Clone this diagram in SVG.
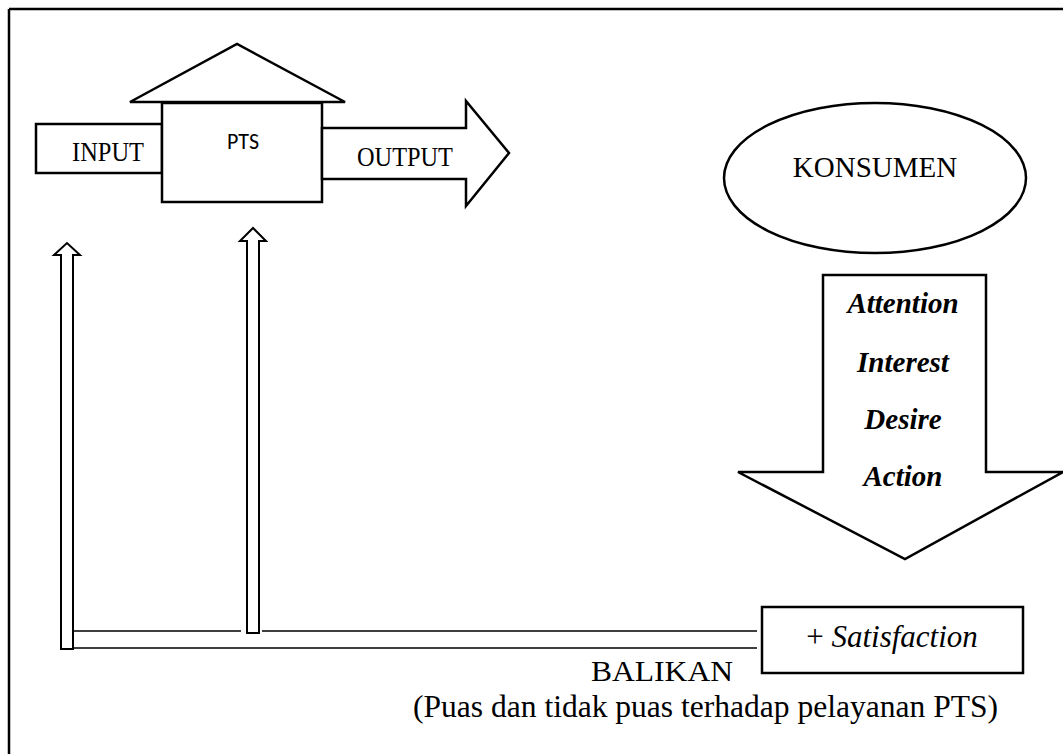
<svg xmlns="http://www.w3.org/2000/svg" width="1063" height="754" viewBox="0 0 1063 754">
<style>
.s{fill:#fff;stroke:#000;stroke-width:2.5;stroke-linejoin:miter}
.t{font-family:"Liberation Serif","Times New Roman",serif;fill:#000}
.bi{font-family:"Liberation Serif","Times New Roman",serif;font-weight:bold;font-style:italic;fill:#000}
.l{stroke:#000;stroke-width:1.6;fill:none}
.u{fill:#fff;stroke:#000;stroke-width:2}
</style>
<rect width="1063" height="754" fill="#fff"/>
<g id="frame">
<path d="M9,9 H1063 M9,9 V754" fill="none" stroke="#000" stroke-width="2.5"/>
</g>
<g id="input">
<rect class="s" x="36" y="124" width="126" height="49"/>
<text class="t" x="108" y="161" font-size="28" text-anchor="middle" textLength="72" lengthAdjust="spacingAndGlyphs">INPUT</text>
</g>
<g id="pts">
<polygon class="s" points="130,102 237,44 345,102"/>
<rect class="s" x="162" y="103" width="160" height="99"/>
<text x="243" y="149" font-family="Carlito,'Liberation Sans',Arial,sans-serif" font-size="22" text-anchor="middle" textLength="32" lengthAdjust="spacingAndGlyphs">PTS</text>
</g>
<g id="output">
<polygon class="s" points="322,128 466,128 466,101 509,153 466,206 466,179 322,179"/>
<text class="t" x="405" y="166" font-size="28" text-anchor="middle" textLength="96" lengthAdjust="spacingAndGlyphs">OUTPUT</text>
</g>
<g id="konsumen">
<ellipse class="s" cx="875" cy="178" rx="151" ry="75"/>
<text class="t" x="875" y="177" font-size="29" text-anchor="middle">KONSUMEN</text>
</g>
<g id="aida">
<polygon class="s" points="823,275 986,275 986,472 1063,472 905,559 738,472 823,472"/>
<text class="bi" x="903" y="313" font-size="29" text-anchor="middle">Attention</text>
<text class="bi" x="903" y="372" font-size="29" text-anchor="middle">Interest</text>
<text class="bi" x="903" y="429" font-size="29" text-anchor="middle">Desire</text>
<text class="bi" x="903" y="486" font-size="29" text-anchor="middle">Action</text>
</g>
<g id="satisfaction">
<rect class="s" x="762" y="607" width="261" height="66"/>
<text class="t" x="892" y="647" font-size="31" text-anchor="middle">+ <tspan font-style="italic">Satisfaction</tspan></text>
</g>
<g id="connectors">
<path class="l" d="M74,631 H241 M262,631 H757 M73,648 H757"/>
<polygon class="u" points="61,649 61,255 54,255 67,243 80,255 73,255 73,649"/>
<polygon class="u" points="247,633 247,241 240,241 253,228 266,241 259,241 259,633"/>
</g>
<g id="labels">
<text class="t" x="662" y="681" font-size="30" text-anchor="middle" textLength="142" lengthAdjust="spacingAndGlyphs">BALIKAN</text>
<text class="t" x="413" y="717" font-size="31" textLength="585" lengthAdjust="spacingAndGlyphs">(Puas dan tidak puas terhadap pelayanan PTS)</text>
</g>
</svg>
